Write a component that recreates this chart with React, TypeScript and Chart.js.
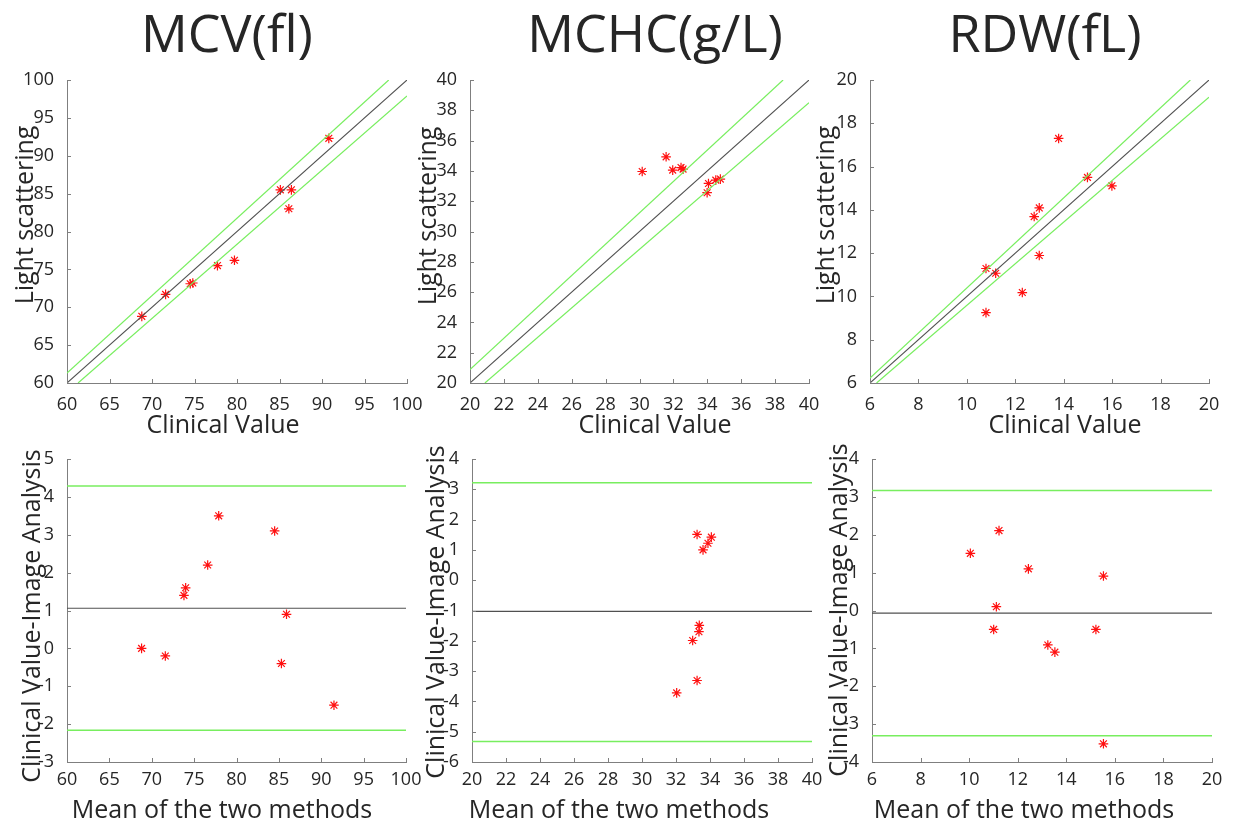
import React, { useEffect, useRef } from "react";
import { Chart, registerables } from "chart.js";

Chart.register(...registerables);

// ---------------- DATA ----------------
// MCV (fl)
const mcvClinical = [68.8, 71.6, 74.5, 74.8, 77.7, 79.7, 85.1, 86.4, 86.1, 90.8];
const mcvLight = [68.8, 71.7, 73.1, 73.2, 75.5, 76.2, 85.5, 85.5, 83.0, 92.3];
const mcvBaMean = [68.8, 71.6, 73.8, 74.0, 76.6, 77.9, 84.5, 85.3, 85.9, 91.5];
const mcvBaDiff = [0.0, -0.2, 1.4, 1.6, 2.2, 3.5, 3.1, -0.4, 0.9, -1.5];
const mcvBaLines = [1.06, 4.29, -2.16]; // mean, upper LoA, lower LoA
const mcvUpperBound = [[60, 61.3], [97.85, 100]];
const mcvLowerBound = [[61.3, 60], [100, 97.9]];

// MCHC (g/L)
const mchcClinical = [30.16, 31.57, 31.96, 32.45, 32.57, 33.99, 34.07, 34.5, 34.77];
const mchcLight = [33.96, 34.93, 34.05, 34.22, 34.12, 32.56, 33.17, 33.39, 33.46];
const mchcBaMean = [32.04, 33.24, 32.98, 33.35, 33.37, 33.24, 33.59, 33.88, 34.08];
const mchcBaDiff = [-3.72, -3.31, -1.99, -1.7, -1.49, 1.51, 1.0, 1.22, 1.42];
const mchcBaLines = [-1.03, 3.22, -5.32];
const mchcUpperBound = [[20, 20.88], [38.47, 40]];
const mchcLowerBound = [[20.88, 20], [40, 38.5]];

// RDW (fL)
const rdwClinical = [13.79, 14.98, 15.99, 12.99, 12.78, 12.99, 10.79, 11.19, 12.29, 10.79];
const rdwLight = [17.3, 15.5, 15.11, 14.09, 13.69, 11.89, 11.29, 11.07, 10.18, 9.25];
const rdwBaMean = [10.05, 11.23, 12.44, 15.53, 11.12, 11.01, 13.24, 13.53, 15.22, 15.53];
const rdwBaDiff = [1.51, 2.11, 1.1, 0.91, 0.1, -0.5, -0.91, -1.1, -0.5, -3.52];
const rdwBaLines = [-0.07, 3.17, -3.31];
const rdwUpperBound = [[6, 6.23], [19.23, 20]];
const rdwLowerBound = [[6.27, 6], [20, 19.2]];

// axis ranges [min, max, step]
const mcvRange = [60, 100, 5];
const mchcRange = [20, 40, 2];
const rdwRange = [6, 20, 2];
const mcvDiffRange = [-3, 5, 1];
const mchcDiffRange = [-6, 4, 1];
const rdwDiffRange = [-4, 4, 1];

const titles = ["MCV(fl)", "MCHC(g/L)", "RDW(fL)"];
const xTitleTop = "Clinical Value";
const yTitleTop = "Light scattering";
const xTitleBottom = "Mean of the two methods";
const yTitleBottom = "Clinical Value-Image Analysis";

// ---------------- STYLE ----------------
const FONT = '"Open Sans", "Noto Sans", sans-serif';
const TEXT = "#262626";
const AXIS = "#7f7f7f";
const RED = "#ff1010";
const GREEN = "rgb(120, 238, 95)";
const DARK = "rgb(80, 80, 80)";
const TICK_LEN = 4;

type Pt = { x: number; y: number };

type PanelCfg = {
  chartL: number;
  chartR: number;
  chartT: number;
  chartB: number;
  xH: number;
  xTickPad: number;
  xRange: number[];
  yRange: number[];
  points: Pt[];
  lines: { pts: Pt[]; color: string; width: number }[];
  xTitle: string;
  yTitle: string;
  xTitlePos: [number, number]; // centerX, baselineY (page coords)
  yTitlePos: [number, number]; // baselineX, centerY (page coords)
};

const YW = 67;
const PAD_T = 20;
const PAD_R = 22;

const decorPlugin = {
  id: "decor",
  afterDraw(chart: any, _args: any, opts: any) {
    const { ctx, chartArea: a, scales } = chart;
    const xs = scales.x;
    const ys = scales.y;
    ctx.save();
    ctx.strokeStyle = AXIS;
    ctx.lineWidth = 1;
    ctx.beginPath();
    xs.ticks.forEach((t: any) => {
      const px = Math.round(xs.getPixelForValue(t.value)) + 0.5;
      ctx.moveTo(px, a.bottom);
      ctx.lineTo(px, a.bottom - TICK_LEN);
    });
    ys.ticks.forEach((t: any) => {
      const py = Math.round(ys.getPixelForValue(t.value)) + 0.5;
      ctx.moveTo(a.left, py);
      ctx.lineTo(a.left + TICK_LEN, py);
    });
    ctx.stroke();

    ctx.fillStyle = TEXT;
    ctx.font = `25px ${FONT}`;
    ctx.textAlign = "center";
    ctx.textBaseline = "alphabetic";
    ctx.fillText(opts.xTitle, opts.xTitlePos[0] - opts.offX, opts.xTitlePos[1] - opts.offY);
    ctx.translate(opts.yTitlePos[0] - opts.offX, opts.yTitlePos[1] - opts.offY);
    ctx.rotate(-Math.PI / 2);
    ctx.fillText(opts.yTitle, 0, 0);
    ctx.restore();
  },
};

function Panel({ cfg }: { cfg: PanelCfg }) {
  const ref = useRef<HTMLCanvasElement | null>(null);
  const left = cfg.chartL - YW;
  const top = cfg.chartT - PAD_T;
  const width = cfg.chartR - left + PAD_R;
  const height = cfg.chartB - top + cfg.xH;

  useEffect(() => {
    if (!ref.current) return;
    const tickFont = { family: FONT, size: 18 };
    const chart = new Chart(ref.current, {
      type: "scatter",
      data: {
        datasets: [
          ...cfg.lines.map((l) => ({
            data: l.pts,
            showLine: true,
            borderColor: l.color,
            backgroundColor: l.color,
            borderWidth: l.width,
            pointRadius: 0,
            fill: false,
          })),
          {
            data: cfg.points,
            pointStyle: "star",
            pointRadius: 4.8,
            borderColor: RED,
            backgroundColor: RED,
            borderWidth: 1.2,
          },
        ],
      } as any,
      options: {
        responsive: false,
        animation: false,
        devicePixelRatio: 1,
        layout: { padding: { top: PAD_T, right: PAD_R, left: 0, bottom: 0 } },
        plugins: {
          legend: { display: false },
          tooltip: { enabled: false },
          decor: {
            xTitle: cfg.xTitle,
            yTitle: cfg.yTitle,
            xTitlePos: cfg.xTitlePos,
            yTitlePos: cfg.yTitlePos,
            offX: left,
            offY: top,
          },
        } as any,
        scales: {
          x: {
            type: "linear",
            min: cfg.xRange[0],
            max: cfg.xRange[1],
            ticks: {
              stepSize: cfg.xRange[2],
              font: tickFont,
              color: TEXT,
              padding: cfg.xTickPad,
              maxRotation: 0,
              autoSkip: false,
            },
            grid: { display: false },
            border: { display: true, color: AXIS, width: 1 },
            afterFit: (s: any) => {
              s.height = cfg.xH;
            },
          },
          y: {
            type: "linear",
            min: cfg.yRange[0],
            max: cfg.yRange[1],
            ticks: {
              stepSize: cfg.yRange[2],
              font: tickFont,
              color: TEXT,
              padding: 5,
              autoSkip: false,
            },
            grid: { display: false },
            border: { display: true, color: AXIS, width: 1 },
            afterFit: (s: any) => {
              s.width = YW;
            },
          },
        },
      } as any,
      plugins: [decorPlugin as any],
    });
    return () => chart.destroy();
  }, []);

  return (
    <canvas
      ref={ref}
      width={width}
      height={height}
      style={{ position: "absolute", left, top, width, height }}
    />
  );
}

const toPts = (xs: number[], ys: number[]): Pt[] => xs.map((x, i) => ({ x, y: ys[i] }));
const seg = (s: number[][]): Pt[] => s.map((p) => ({ x: p[0], y: p[1] }));
const diag = (r: number[]): Pt[] => [
  { x: r[0], y: r[0] },
  { x: r[1], y: r[1] },
];
const hline = (r: number[], v: number): Pt[] => [
  { x: r[0], y: v },
  { x: r[1], y: v },
];

const topLines = (r: number[], up: number[][], lo: number[][]) => [
  { pts: seg(up), color: GREEN, width: 1.2 },
  { pts: seg(lo), color: GREEN, width: 1.2 },
  { pts: diag(r), color: DARK, width: 1.1 },
];
const baLines = (r: number[], v: number[]) => [
  { pts: hline(r, v[1]), color: GREEN, width: 1.5 },
  { pts: hline(r, v[2]), color: GREEN, width: 1.5 },
  { pts: hline(r, v[0]), color: DARK, width: 1.2 },
];

const panels: PanelCfg[] = [
  {
    chartL: 67, chartR: 407, chartT: 80, chartB: 383, xH: 57, xTickPad: 3,
    xRange: mcvRange, yRange: mcvRange,
    points: toPts(mcvClinical, mcvLight),
    lines: topLines(mcvRange, mcvUpperBound, mcvLowerBound),
    xTitle: xTitleTop, yTitle: yTitleTop,
    xTitlePos: [223, 433], yTitlePos: [33, 215],
  },
  {
    chartL: 470, chartR: 809, chartT: 80, chartB: 383, xH: 57, xTickPad: 3,
    xRange: mchcRange, yRange: mchcRange,
    points: toPts(mchcClinical, mchcLight),
    lines: topLines(mchcRange, mchcUpperBound, mchcLowerBound),
    xTitle: xTitleTop, yTitle: yTitleTop,
    xTitlePos: [655, 433], yTitlePos: [436, 216],
  },
  {
    chartL: 870, chartR: 1209, chartT: 80, chartB: 383, xH: 57, xTickPad: 3,
    xRange: rdwRange, yRange: rdwRange,
    points: toPts(rdwClinical, rdwLight),
    lines: topLines(rdwRange, rdwUpperBound, rdwLowerBound),
    xTitle: xTitleTop, yTitle: yTitleTop,
    xTitlePos: [1065, 433], yTitlePos: [834, 215],
  },
  {
    chartL: 67, chartR: 406, chartT: 459, chartB: 762, xH: 62, xTickPad: -1,
    xRange: mcvRange, yRange: mcvDiffRange,
    points: toPts(mcvBaMean, mcvBaDiff),
    lines: baLines(mcvRange, mcvBaLines),
    xTitle: xTitleBottom, yTitle: yTitleBottom,
    xTitlePos: [222, 818], yTitlePos: [40, 616],
  },
  {
    chartL: 472, chartR: 812, chartT: 459, chartB: 762, xH: 62, xTickPad: -1,
    xRange: mchcRange, yRange: mchcDiffRange,
    points: toPts(mchcBaMean, mchcBaDiff),
    lines: baLines(mchcRange, mchcBaLines),
    xTitle: xTitleBottom, yTitle: yTitleBottom,
    xTitlePos: [619, 818], yTitlePos: [444, 612],
  },
  {
    chartL: 872, chartR: 1212, chartT: 459, chartB: 762, xH: 62, xTickPad: -1,
    xRange: rdwRange, yRange: rdwDiffRange,
    points: toPts(rdwBaMean, rdwBaDiff),
    lines: baLines(rdwRange, rdwBaLines),
    xTitle: xTitleBottom, yTitle: yTitleBottom,
    xTitlePos: [1024, 818], yTitlePos: [847, 610],
  },
];

const titleCenters = [227, 655, 1045];

export default function App() {
  return (
    <div
      style={{
        position: "fixed",
        left: 0,
        top: 0,
        width: 1237,
        height: 824,
        background: "#fff",
        overflow: "hidden",
      }}
    >
      {titles.map((t, i) => (
        <div
          key={t}
          style={{
            position: "absolute",
            left: titleCenters[i] - 200,
            top: 6,
            width: 400,
            textAlign: "center",
            fontFamily: FONT,
            fontSize: 52,
            lineHeight: "52px",
            color: TEXT,
            whiteSpace: "nowrap",
          }}
        >
          {t}
        </div>
      ))}
      {panels.map((p, i) => (
        <Panel key={i} cfg={p} />
      ))}
    </div>
  );
}
